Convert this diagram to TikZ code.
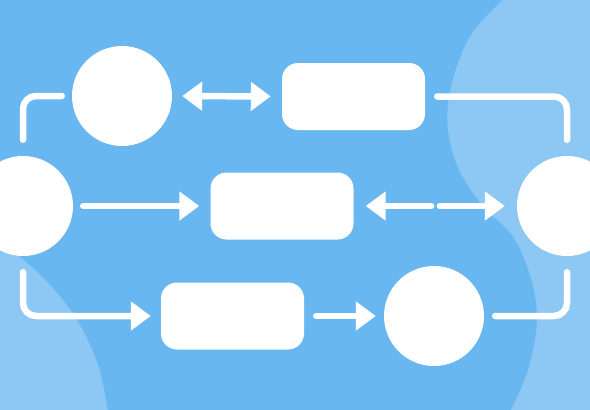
\documentclass[tikz,border=0pt]{standalone}
\usetikzlibrary{arrows.meta}
\definecolor{bgblue}{HTML}{69B7F0}
\definecolor{blobblue}{HTML}{8DC8F4}
\tikzset{
  roundnode/.style={circle, fill=white, draw=none, minimum size=100pt, inner sep=0pt},
  boxnode/.style={rectangle, rounded corners=16pt, fill=white, draw=none, minimum width=143pt, minimum height=67pt, inner sep=0pt},
  link/.style={draw=white, line width=6.5pt, line cap=round},
  headend/.style={-{Triangle[length=20pt,width=28pt]}},
  elbowline/.style={rounded corners=13pt}
}
\begin{document}
\begin{tikzpicture}[x=1pt,y=-1pt]
\useasboundingbox (0,0) rectangle (590,410);
\clip (0,0) rectangle (590,410);
\fill[bgblue] (0,0) rectangle (590,410);
% background blobs
\fill[blobblue] plot[smooth, tension=0.6] coordinates {(505,-2) (468,40) (448,105) (455,160) (482,205) (512,235) (530,275) (537,320) (528,370) (510,412)} -- (592,412) -- (592,-2) -- cycle;
\fill[blobblue] plot[smooth, tension=0.6] coordinates {(-2,243) (20,257) (50,285) (77,320) (98,365) (108,412)} -- (-2,412) -- cycle;
% nodes
\node[roundnode] (c1) at (122,96) {};
\node[boxnode] (r1) at (353.5,96.5) {};
\node[roundnode] (c2) at (23,206) {};
\node[boxnode] (r2) at (282,206) {};
\node[roundnode] (c3) at (567,206) {};
\node[boxnode] (r3) at (232.5,316) {};
\node[roundnode] (c4) at (434,316) {};
\coordinate (mid) at (435.5,206);
% connectors
\draw[link, {Triangle[length=20pt,width=28pt]}-{Triangle[length=20pt,width=28pt]}, shorten <=10pt, shorten >=11pt] (c1.east) -- (r1.west);
\draw[link, headend, shorten <=10pt, shorten >=11pt] (c2.east) -- (r2.west);
\draw[link, headend, shorten <=4.3pt, shorten >=12pt] (mid) -- (r2.east);
\draw[link, headend, shorten <=4.3pt, shorten >=12pt] (mid) -- (c3.west);
\draw[link, headend, shorten <=12pt, shorten >=8pt] (r3.east) -- (c4.west);
\draw[link, elbowline, shorten <=10pt, shorten >=16pt] (c1.west) -| (c2.north);
\draw[link, elbowline, shorten <=12pt, shorten >=16pt] (r1.east) -| (c3.north);
\draw[link, elbowline, headend, shorten <=16pt, shorten >=10pt] (c2.south) |- (r3.west);
\draw[link, elbowline, shorten <=16pt, shorten >=11pt] (c3.south) |- (c4.east);
\end{tikzpicture}
\end{document}
